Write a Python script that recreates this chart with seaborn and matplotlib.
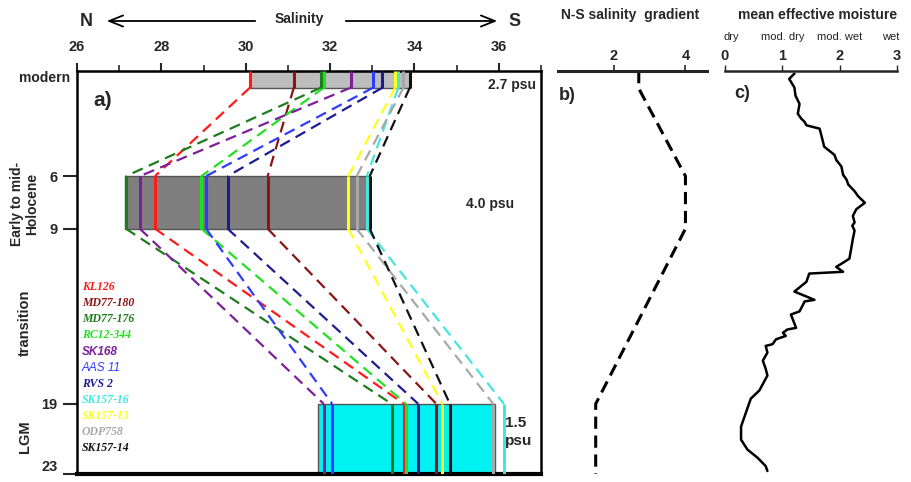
import matplotlib
matplotlib.use("Agg")
import matplotlib.pyplot as plt
import seaborn as sns
import pandas as pd

# ---------------- data ----------------
stations = ["KL126", "MD77-180", "MD77-176", "RC12-344", "SK168", "AAS 11",
            "RVS 2", "SK157-16", "SK157-13", "ODP758", "SK157-14"]
colors = ["#ff1a1a", "#8b1414", "#1e7b1e", "#22e022", "#7d1f9a", "#2f3cff",
          "#1c1c8f", "#44e6e0", "#ffff1a", "#a8a8a8", "#111111"]
sal_modern = [30.10, 31.14, 31.78, 31.85, 32.49, 33.02, 33.24, 33.62, 33.54, 33.74, 33.89]
sal_holocene = [27.85, 30.52, 27.16, 28.95, 27.49, 29.06, 29.57, 32.87, 32.43, 32.63, 32.94]
sal_lgm = [33.75, 34.52, 33.46, 33.80, 31.85, 32.05, 34.09, 36.12, 34.66, 35.87, 34.84]

period_top = [0.0, 6.0, 19.0]      # ka
period_bottom = [0.95, 9.0, 23.0]  # ka
bar_left = [30.10, 27.14, 31.72]
bar_right = [33.90, 32.94, 35.90]
bar_colors = ["#bdbdbd", "#7f7f7f", "#00f2f2"]
psu_labels = ["2.7 psu", "4.0 psu", "1.5\npsu"]

grad = [2.7, 2.7, 4.0, 4.0, 1.5, 1.5]
grad_age = [0, 1, 6, 9, 19, 23]

moist = [1.21, 1.12, 1.21, 1.23, 1.30, 1.27, 1.33, 1.39, 1.42, 1.65, 1.68, 1.73, 1.91, 1.94,
         2.03, 2.06, 2.12, 2.15, 2.26, 2.32, 2.44, 2.29, 2.23, 2.26, 2.22, 2.26, 2.23, 2.20,
         2.17, 2.08, 1.94, 2.06, 1.47, 1.42, 1.21, 1.42, 1.56, 1.39, 1.30, 1.15, 1.24, 1.09,
         1.01, 1.06, 0.89, 0.83, 0.71, 0.74, 0.66, 0.71, 0.74, 0.60, 0.45, 0.36, 0.28, 0.28,
         0.39, 0.57, 0.71, 0.74]
moist_age = [0.15, 0.45, 0.94, 1.41, 1.88, 2.44, 2.72, 2.91, 3.1, 3.29, 3.66, 4.32, 4.79, 5.07,
             5.45, 5.92, 6.2, 6.48, 6.86, 7.14, 7.52, 7.89, 8.27, 8.64, 8.83, 9.11, 9.58, 10.15,
             10.71, 10.9, 11.18, 11.46, 11.56, 12.03, 12.59, 12.87, 13.06, 13.15, 13.72, 13.9,
             14.66, 14.75, 14.94, 15.12, 15.31, 15.59, 15.69, 16.07, 16.53, 17.0, 17.38, 18.23,
             18.7, 19.54, 20.29, 21.04, 21.6, 22.08, 22.55, 22.83]

sal_ticks = [26, 28, 30, 32, 34, 36]
age_ticks = [6, 9, 19, 23]
grad_ticks = [2, 4]
moist_ticks = [0, 1, 2, 3]
moist_classes = ["dry", "mod. dry", "mod. wet", "wet"]

# ---------------- style ----------------
sns.set_theme(style="white")
plt.rcParams["font.family"] = ["Liberation Sans", "DejaVu Sans"]
plt.rcParams["axes.linewidth"] = 1.8

fig = plt.figure(figsize=(9.12, 4.82), dpi=100)
W, H = 912.0, 482.0
TOP, BOT = 71, 474

def fx(px):
    return px / W

def fy(py):
    return 1 - py / H

# ---------------- panel a ----------------
axa = fig.add_axes([fx(77), fy(BOT), fx(541) - fx(77), fy(TOP) - fy(BOT)])
axa.set_xlim(26, 37)
axa.set_ylim(23, 0)

for i in range(3):
    axa.fill_betweenx([period_top[i], period_bottom[i]], bar_left[i], bar_right[i],
                      color=bar_colors[i], edgecolor="#555555", lw=1.0, zorder=1)

periods = [sal_modern, sal_holocene, sal_lgm]
for k, (name, c) in enumerate(zip(stations, colors)):
    for i in range(3):
        axa.plot([periods[i][k], periods[i][k]], [period_top[i], period_bottom[i]],
                 color=c, lw=2.2, zorder=3, solid_capstyle="butt")
    for i in range(2):
        axa.plot([periods[i][k], periods[i + 1][k]], [period_bottom[i], period_top[i + 1]],
                 color=c, lw=1.6, ls=(0, (5, 3)), zorder=2)

axa.xaxis.tick_top()
axa.set_xticks(sal_ticks)
axa.set_xticks([27, 29, 31, 33, 35, 37], minor=True)
axa.tick_params(axis="x", which="major", top=True, direction="out", length=6, width=1.5,
                pad=6, labelsize=10.5)
axa.tick_params(axis="x", which="minor", top=True, direction="out", length=4, width=1.2)
axa.set_yticks(age_ticks)
axa.tick_params(axis="y", left=True, direction="out", length=10, width=1.5, pad=4,
                labelsize=10.5)
for lab in axa.get_xticklabels() + axa.get_yticklabels():
    lab.set_fontweight("bold")
axa.get_yticklabels()[-1].set_va("bottom")
axa.spines["bottom"].set_linewidth(3)
for s in axa.spines.values():
    s.set_color("black")

axa.text(26.62, 1.7, "a)", fontsize=15, fontweight="bold", ha="center", va="center")
axa.text(36.88, 0.8, psu_labels[0], fontsize=10, fontweight="bold", ha="right", va="center")
axa.text(35.8, 7.6, psu_labels[1], fontsize=10, fontweight="bold", ha="center", va="center")
axa.text(36.15, 20.6, psu_labels[2], fontsize=11, fontweight="bold", ha="left", va="center",
         linespacing=1.3)

leg_style = {"SK168": ("Liberation Sans", "bold"), "AAS 11": ("Liberation Sans", "normal")}
for j, (name, c) in enumerate(zip(stations, colors)):
    fam, wt = leg_style.get(name, ("Liberation Serif", "bold"))
    axa.text(26.12, 12.35 + j * 0.915, name, color=c, fontsize=8.5, fontstyle="italic",
             fontweight=wt, family=fam, ha="left", va="center")

# left labels
fig.text(fx(70), fy(78), "modern", fontsize=10, fontweight="bold", ha="right", va="center")
fig.text(fx(25), fy(204), "Early to mid-\nHolocene", fontsize=10, fontweight="bold",
         rotation=90, ha="center", va="center", linespacing=1.1)
fig.text(fx(25), fy(323), "transition", fontsize=10.5, fontweight="bold", rotation=90,
         ha="center", va="center")
fig.text(fx(25), fy(437), "LGM", fontsize=10.5, fontweight="bold", rotation=90,
         ha="center", va="center")

# top N <- Salinity -> S
fig.text(fx(86), fy(21), "N", fontsize=13, fontweight="bold", ha="center", va="center")
fig.text(fx(515), fy(21), "S", fontsize=13, fontweight="bold", ha="center", va="center")
fig.text(fx(299), fy(19), "Salinity", fontsize=10, fontweight="bold", ha="center", va="center")
fig.add_artist(matplotlib.patches.FancyArrowPatch((fx(258), fy(21)), (fx(104), fy(21)),
               transform=fig.transFigure, arrowstyle="->,head_length=10,head_width=4",
               lw=1.3, color="black"))
fig.add_artist(matplotlib.patches.FancyArrowPatch((fx(343), fy(21)), (fx(500), fy(21)),
               transform=fig.transFigure, arrowstyle="->,head_length=10,head_width=4",
               lw=1.3, color="black"))

# ---------------- panel b ----------------
axb = fig.add_axes([fx(558), fy(BOT), fx(707) - fx(558), fy(TOP) - fy(BOT)])
sns.lineplot(x=grad, y=grad_age, sort=False, estimator=None, ax=axb, color="black",
             lw=2.2, linestyle=(0, (4, 2.2)))
axb.set_xlim(0.45, 4.6)
axb.set_ylim(23, 0)
for s in ["left", "right", "bottom"]:
    axb.spines[s].set_visible(False)
axb.spines["top"].set_linewidth(2.2)
axb.xaxis.tick_top()
axb.set_xticks(grad_ticks)
axb.set_yticks([])
axb.tick_params(axis="x", top=True, direction="out", length=4, width=1.2, pad=2,
                labelsize=10.5)
for lab in axb.get_xticklabels():
    lab.set_fontweight("bold")
axb.set_xlabel("")
axb.set_ylabel("")
axb.text(0.7, 1.4, "b)", fontsize=13, fontweight="bold", ha="center", va="center")
fig.text(fx(630), fy(15), "N-S salinity  gradient", fontsize=10, fontweight="bold",
         ha="center", va="center")

# ---------------- panel c ----------------
axc = fig.add_axes([fx(725), fy(BOT), fx(897) - fx(725), fy(TOP) - fy(BOT)])
sns.lineplot(x=moist, y=moist_age, sort=False, estimator=None, ax=axc, color="black", lw=1.8)
axc.set_xlim(0, 3)
axc.set_ylim(23, 0)
for s in ["left", "right", "bottom"]:
    axc.spines[s].set_visible(False)
axc.spines["top"].set_linewidth(1.8)
axc.xaxis.tick_top()
axc.set_xticks(moist_ticks)
axc.set_yticks([])
axc.tick_params(axis="x", top=True, direction="out", length=4, width=1.0, pad=2,
                labelsize=10.5)
for lab in axc.get_xticklabels():
    lab.set_fontweight("bold")
axc.set_xlabel("")
axc.set_ylabel("")
axc.text(0.3, 1.3, "c)", fontsize=13, fontweight="bold", ha="center", va="center")
fig.text(fx(818), fy(15), "mean effective moisture", fontsize=10, fontweight="bold",
         ha="center", va="center")
for xv, lab in zip(moist_ticks, moist_classes):
    px = 725 + xv * (897 - 725) / 3
    px = px + 6 if xv == 0 else (px - 6 if xv == 3 else px)
    fig.text(fx(px), fy(37), lab, fontsize=8, color="#222222", ha="center", va="center")

fig.savefig("out.png", dpi=100)
